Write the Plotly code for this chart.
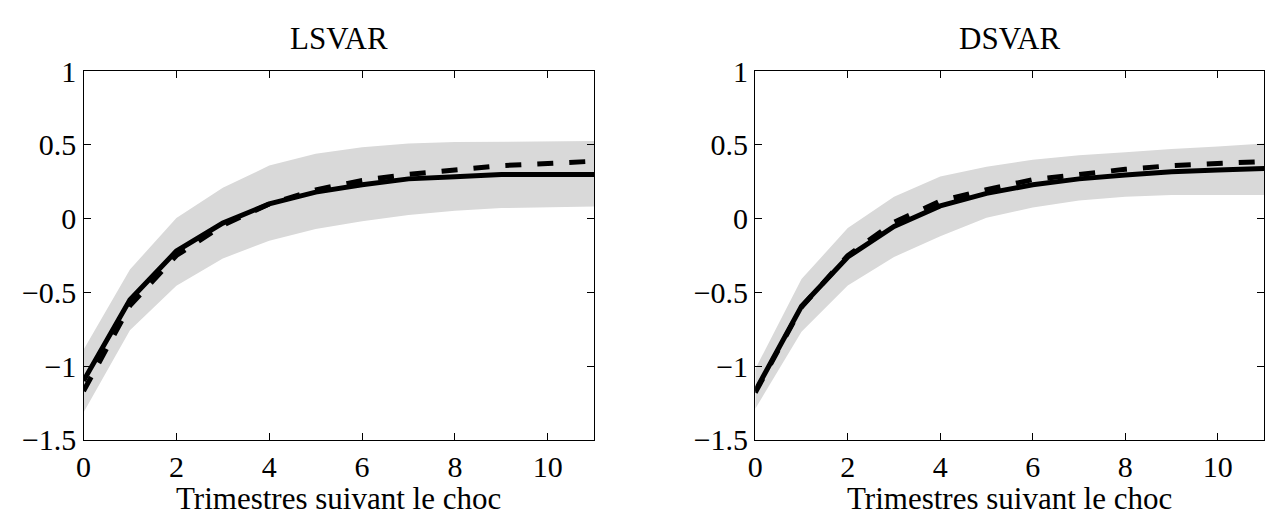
import plotly.graph_objects as go
from plotly.subplots import make_subplots

horizons = list(range(12))

# LSVAR
ls_solid = [-1.10, -0.55, -0.22, -0.03, 0.10, 0.18, 0.23, 0.27, 0.285, 0.30, 0.30, 0.30]
ls_dash = [-1.17, -0.59, -0.25, -0.045, 0.10, 0.195, 0.26, 0.30, 0.33, 0.36, 0.375, 0.39]
ls_upper = [-0.89, -0.345, 0.004, 0.21, 0.36, 0.44, 0.485, 0.51, 0.52, 0.523, 0.527, 0.527]
ls_lower = [-1.316, -0.758, -0.455, -0.27, -0.15, -0.07, -0.017, 0.025, 0.053, 0.072, 0.078, 0.083]

# DSVAR
ds_solid = [-1.17, -0.594, -0.26, -0.053, 0.087, 0.172, 0.23, 0.27, 0.297, 0.318, 0.33, 0.34]
ds_dash = [-1.18, -0.60, -0.25, -0.025, 0.12, 0.197, 0.265, 0.30, 0.335, 0.36, 0.378, 0.388]
ds_upper = [-1.02, -0.41, -0.064, 0.149, 0.287, 0.352, 0.40, 0.43, 0.45, 0.473, 0.49, 0.51]
ds_lower = [-1.29, -0.768, -0.454, -0.26, -0.12, 0.006, 0.076, 0.123, 0.149, 0.16, 0.16, 0.16]

titles = ["LSVAR", "DSVAR"]
x_title = "Trimestres suivant le choc"
y_tickvals = [1, 0.5, 0, -0.5, -1, -1.5]
y_ticktext = ["1", "0.5", "0", "\u22120.5", "\u22121", "\u22121.5"]
x_tickvals = [0, 2, 4, 6, 8, 10]

FONT = "Liberation Serif, Times New Roman, serif"
FS_TICK = 30
FS_TEXT = 31
BAND = "#d9d9d9"
W, H = 1271, 527

fig = make_subplots(rows=1, cols=2)

panels = [
    (ls_solid, ls_dash, ls_upper, ls_lower),
    (ds_solid, ds_dash, ds_upper, ds_lower),
]

for i, (solid, dash, up, lo) in enumerate(panels, start=1):
    fig.add_trace(go.Scatter(
        x=horizons + horizons[::-1], y=up + lo[::-1],
        fill="toself", fillcolor=BAND, line=dict(width=0),
        mode="lines", showlegend=False, hoverinfo="skip"), row=1, col=i)
    fig.add_trace(go.Scatter(
        x=horizons, y=dash, mode="lines",
        line=dict(color="black", width=5, dash="16px,16px"),
        showlegend=False), row=1, col=i)
    fig.add_trace(go.Scatter(
        x=horizons, y=solid, mode="lines",
        line=dict(color="black", width=5),
        showlegend=False), row=1, col=i)

axis_common = dict(
    showline=True, linecolor="black", linewidth=1.3, mirror="ticks",
    ticks="inside", ticklen=7, tickwidth=1, tickcolor="black",
    showgrid=False, zeroline=False,
    tickfont=dict(family=FONT, size=FS_TICK, color="black"),
)

domains_x = [[76 / W, 590 / W], [752 / W, 1264 / W]]
ydom = [1 - 452 / H, 1 - 59 / H]

for i in (1, 2):
    fig.update_xaxes(
        range=[0, 11], tickvals=x_tickvals, domain=domains_x[i - 1],
        **axis_common, row=1, col=i)
    fig.update_yaxes(
        range=[-1.5, 1], tickvals=y_tickvals, ticktext=y_ticktext, domain=ydom,
        **axis_common, row=1, col=i)

for i, t in enumerate(titles):
    d = domains_x[i]
    cx = (d[0] + d[1]) / 2
    fig.add_annotation(
        text=t, x=cx, y=1 - 24 / H, xref="paper", yref="paper",
        xanchor="center", yanchor="middle", showarrow=False,
        font=dict(family=FONT, size=FS_TEXT, color="black"))
    fig.add_annotation(
        text=x_title, x=cx, y=1 - 515 / H, xref="paper", yref="paper",
        xanchor="center", yanchor="middle", showarrow=False,
        font=dict(family=FONT, size=FS_TEXT, color="black"))

fig.update_layout(
    width=W, height=H,
    margin=dict(l=0, r=0, t=0, b=0),
    paper_bgcolor="white", plot_bgcolor="white",
    font=dict(family=FONT, color="black"),
)

fig.write_html("out.html", config={"displayModeBar": False},
               post_script="document.body.style.margin='0';")
